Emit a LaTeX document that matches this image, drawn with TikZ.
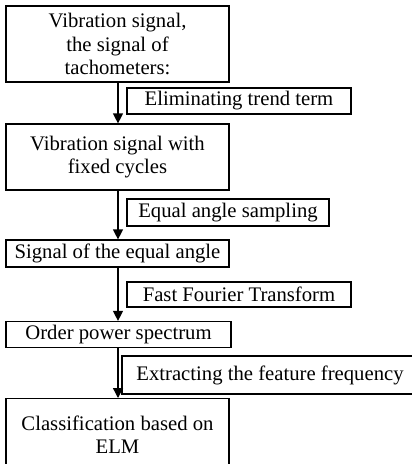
\documentclass[tikz,border=0pt]{standalone}
\usepackage{fontspec}
\setmainfont{Liberation Serif}
\usetikzlibrary{arrows.meta}
\begin{document}
\begin{tikzpicture}[x=1pt,y=-1pt,
  box/.style={draw, line width=1.2pt, rectangle, inner sep=0pt, align=center,
    font=\fontsize{20.7}{23.5}\selectfont, minimum width=223pt},
  lbl/.style={draw, line width=1.2pt, rectangle, inner sep=0pt, align=center,
    font=\fontsize{20.7}{23.5}\selectfont},
  flow/.style={line width=1.3pt, -{Triangle[length=10pt,width=10pt]}}]
\useasboundingbox (0,0) rectangle (412,464);
\clip (0,0) rectangle (412,464);
\node[box, minimum height=76pt] (b1) at (117.5,44) {Vibration signal,\\the signal of\\tachometers:};
\node[box, minimum height=66pt] (b2) at (117.5,157) {Vibration signal with\\fixed cycles};
\node[box, minimum height=27pt] (b3) at (117.5,253.5) {Signal of the equal angle};
\node[box, minimum height=26pt, minimum width=225pt] (b4) at (118.5,334.5) {Order power spectrum};
\node[box, minimum height=72pt, anchor=north] (b5) at (117.5,398) {Classification based on\\ELM};
\node[lbl, minimum width=224pt, minimum height=26pt] (l1) at (239,101) {Eliminating trend term};
\node[lbl, minimum width=202pt, minimum height=27pt] (l2) at (228,212.5) {Equal angle sampling};
\node[lbl, minimum width=224pt, minimum height=25pt] (l3) at (239,294.5) {Fast Fourier Transform};
\node[lbl, minimum width=296pt, minimum height=38pt] (l4) at (270,375) {Extracting the feature frequency};
\draw[flow] (b1.south -| 118,0) -- (b2.north -| 118,0);
\draw[flow] (b2.south -| 118,0) -- (b3.north -| 118,0);
\draw[flow] (b3.south -| 118,0) -- (b4.north -| 118,0);
\draw[flow] (b4.south -| 118,0) -- (b5.north -| 118,0);
\end{tikzpicture}
\end{document}
